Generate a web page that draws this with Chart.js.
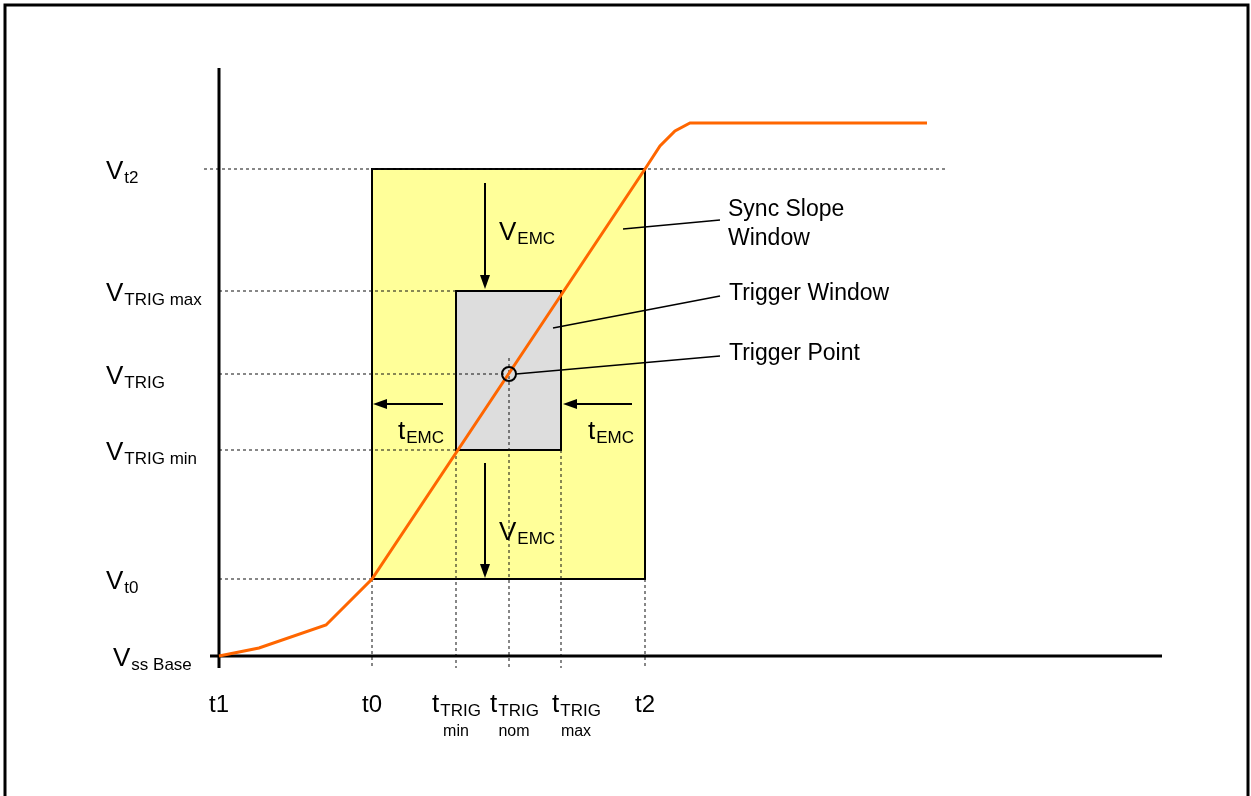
<!DOCTYPE html>
<html>
<head>
<meta charset="utf-8">
<script src="https://cdn.jsdelivr.net/npm/chart.js@4"></script>
<style>
  body { margin: 0; background: #fff; }
  #wrap { width: 1251px; height: 796px; position: relative; }
</style>
</head>
<body>
<div id="wrap"><canvas id="slopeChart"></canvas></div>
<script>
// time axis (origin at t1), in px-like units
const timeMain = ["t1", "t0", "t", "t", "t", "t2"];
const timeSub = ["", "", "TRIG", "TRIG", "TRIG", ""];
const timeUnder = ["", "", "min", "nom", "max", ""];
const timeValues = [0, 153, 237, 290, 342, 426];

// voltage levels (origin at Vss Base)
const levelSub = ["ss Base", "t0", "TRIG min", "TRIG", "TRIG max", "t2"];
const levelValues = [0, 77, 206, 282, 365, 487];

// the sync slope curve
const curveX = [0, 40, 107, 153, 426, 441, 456, 471, 708];
const curveY = [0, 8, 31, 77, 487, 510, 525, 533, 533];

const calloutText = ["Sync Slope|Window", "Trigger Window", "Trigger Point"];

const ORANGE = "#ff6600";
const FONT = "Liberation Sans, Arial, sans-serif";

function subText(ctx, x, y, main, sub, mainSize, subSize, center) {
  ctx.font = mainSize + "px " + FONT;
  const w1 = ctx.measureText(main).width;
  ctx.font = subSize + "px " + FONT;
  const w2 = ctx.measureText(sub).width;
  let x0 = center ? x - (w1 + w2) / 2 : x;
  ctx.textAlign = "left";
  ctx.textBaseline = "alphabetic";
  ctx.font = mainSize + "px " + FONT;
  ctx.fillText(main, x0, y);
  ctx.font = subSize + "px " + FONT;
  ctx.fillText(sub, x0 + w1 + 1, y + 4);
}

function arrow(ctx, x1, y1, x2, y2) {
  const a = Math.atan2(y2 - y1, x2 - x1);
  const len = 14, hw = 5;
  ctx.lineWidth = 2;
  ctx.strokeStyle = "#000";
  ctx.fillStyle = "#000";
  ctx.beginPath();
  ctx.moveTo(x1, y1);
  ctx.lineTo(x2 - Math.cos(a) * len, y2 - Math.sin(a) * len);
  ctx.stroke();
  ctx.beginPath();
  ctx.moveTo(x2, y2);
  ctx.lineTo(x2 - Math.cos(a) * len - Math.sin(a) * hw, y2 - Math.sin(a) * len + Math.cos(a) * hw);
  ctx.lineTo(x2 - Math.cos(a) * len + Math.sin(a) * hw, y2 - Math.sin(a) * len - Math.cos(a) * hw);
  ctx.closePath();
  ctx.fill();
}

const diagram = {
  id: "diagram",
  beforeDatasetsDraw(chart) {
    const ctx = chart.ctx;
    const px = v => chart.scales.x.getPixelForValue(v);
    const py = v => chart.scales.y.getPixelForValue(v);
    const [tS, t0, tMin, tNom, tMax, t2] = timeValues;
    const [vS, v0, vMin, vTrig, vMax, v2] = levelValues;
    ctx.save();

    // outer frame
    ctx.strokeStyle = "#000";
    ctx.lineWidth = 3;
    ctx.strokeRect(5, 5, 1243, 810);

    // sync slope window
    ctx.fillStyle = "#ffff99";
    ctx.fillRect(px(t0), py(v2), px(t2) - px(t0), py(v0) - py(v2));
    ctx.lineWidth = 2;
    ctx.strokeRect(px(t0), py(v2), px(t2) - px(t0), py(v0) - py(v2));
    // trigger window
    ctx.fillStyle = "#dddddd";
    ctx.fillRect(px(tMin), py(vMax), px(tMax) - px(tMin), py(vMin) - py(vMax));
    ctx.strokeRect(px(tMin), py(vMax), px(tMax) - px(tMin), py(vMin) - py(vMax));

    // dashed guides
    ctx.setLineDash([3, 3]);
    ctx.lineWidth = 1;
    ctx.strokeStyle = "#111";
    const hline = (v, a, b) => { ctx.beginPath(); ctx.moveTo(px(a), py(v)); ctx.lineTo(px(b), py(v)); ctx.stroke(); };
    const vline = (t, a, b) => { ctx.beginPath(); ctx.moveTo(px(t), py(a)); ctx.lineTo(px(t), py(b)); ctx.stroke(); };
    hline(v2, -15, 729);
    hline(vMax, 0, tMin);
    hline(vTrig, 0, tNom);
    hline(vMin, 0, tMin);
    hline(v0, 0, t0);
    vline(t0, v0, -12);
    vline(tMin, vMin, -12);
    vline(tNom, 298, -12);
    vline(tMax, vMin, -12);
    vline(t2, v0, -12);
    ctx.setLineDash([]);

    // axes
    ctx.strokeStyle = "#000";
    ctx.lineWidth = 3;
    ctx.beginPath();
    ctx.moveTo(px(0), py(588)); ctx.lineTo(px(0), py(-12));
    ctx.moveTo(px(-9), py(0)); ctx.lineTo(px(943), py(0));
    ctx.stroke();
    ctx.restore();
  },
  afterDatasetsDraw(chart) {
    const ctx = chart.ctx;
    const px = v => chart.scales.x.getPixelForValue(v);
    const py = v => chart.scales.y.getPixelForValue(v);
    const [tS, t0, tMin, tNom, tMax, t2] = timeValues;
    const [vS, v0, vMin, vTrig, vMax, v2] = levelValues;
    ctx.save();
    ctx.fillStyle = "#000";

    // EMC arrows
    arrow(ctx, px(266), py(473), px(266), py(367));
    arrow(ctx, px(266), py(193), px(266), py(78));
    arrow(ctx, px(224), py(252), px(154), py(252));
    arrow(ctx, px(413), py(252), px(344), py(252));

    // trigger point circle
    ctx.lineWidth = 2;
    ctx.strokeStyle = "#000";
    ctx.beginPath();
    ctx.arc(px(tNom), py(vTrig), 7, 0, Math.PI * 2);
    ctx.stroke();

    // callout lines
    ctx.lineWidth = 1.5;
    ctx.beginPath();
    ctx.moveTo(px(404), py(427)); ctx.lineTo(px(501), py(436));
    ctx.moveTo(px(334), py(328)); ctx.lineTo(px(501), py(360));
    ctx.moveTo(px(297), py(282)); ctx.lineTo(px(501), py(300));
    ctx.stroke();

    // callout text
    ctx.fillStyle = "#000";
    ctx.font = "23px " + FONT;
    ctx.textAlign = "left";
    ctx.textBaseline = "alphabetic";
    const lines0 = calloutText[0].split("|");
    ctx.fillText(lines0[0], px(509), py(440));
    ctx.fillText(lines0[1], px(509), py(411));
    ctx.fillText(calloutText[1], px(510), py(356));
    ctx.fillText(calloutText[2], px(510), py(296));

    // EMC labels
    subText(ctx, px(280), py(416), "V", "EMC", 26, 17, false);
    subText(ctx, px(280), py(116), "V", "EMC", 26, 17, false);
    subText(ctx, px(179), py(217), "t", "EMC", 26, 17, false);
    subText(ctx, px(369), py(217), "t", "EMC", 26, 17, false);

    // level labels
    levelValues.forEach((v, i) => {
      const x = i === 0 ? px(-106) : px(-113);
      subText(ctx, x, py(v) + 10, "V", levelSub[i], 26, 17, false);
    });

    // time labels
    const shift = [0, 0, 0, 5, 15, 0];
    timeValues.forEach((t, i) => {
      const x = px(t) + shift[i];
      const y = py(0) + 56;
      if (timeSub[i]) {
        subText(ctx, x, y, timeMain[i], timeSub[i], 26, 17, true);
        ctx.font = "16px " + FONT;
        ctx.textAlign = "center";
        ctx.fillText(timeUnder[i], x, y + 24);
      } else {
        ctx.font = "24px " + FONT;
        ctx.textAlign = "center";
        ctx.fillText(timeMain[i], x, y);
      }
    });
    ctx.restore();
  }
};

new Chart("slopeChart", {
  type: "scatter",
  data: {
    datasets: [{
      data: curveX.map((x, i) => ({ x: x, y: curveY[i] })),
      showLine: true,
      borderColor: ORANGE,
      borderWidth: 3,
      pointRadius: 0,
      tension: 0
    }]
  },
  options: {
    responsive: true,
    maintainAspectRatio: false,
    animation: false,
    layout: { padding: 0 },
    plugins: { legend: { display: false }, tooltip: { enabled: false } },
    scales: {
      x: { type: "linear", display: false, min: -219, max: 1032 },
      y: { type: "linear", display: false, min: -140, max: 656 }
    }
  },
  plugins: [diagram]
});
</script>
</body>
</html>
